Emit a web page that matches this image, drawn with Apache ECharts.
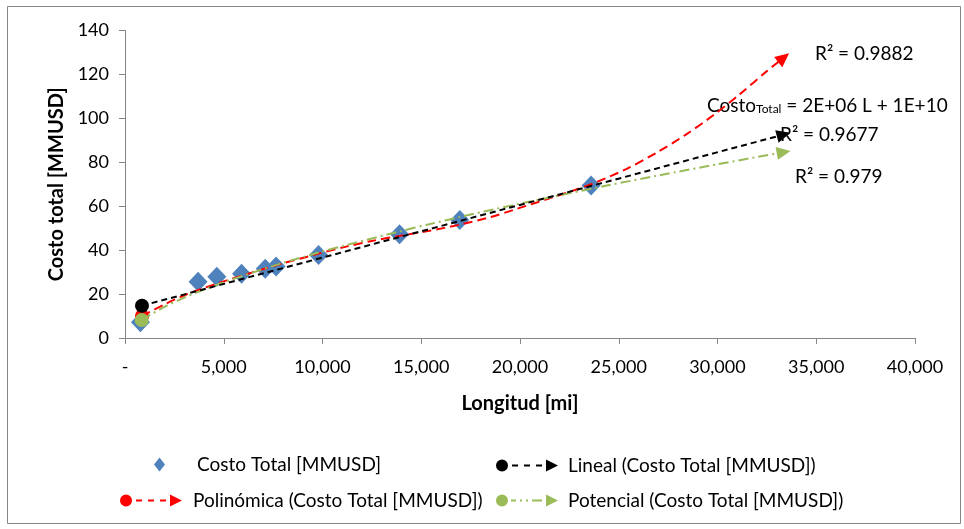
<!DOCTYPE html>
<html>
<head>
<meta charset="utf-8">
<title>Costo total vs Longitud</title>
<script src="https://cdn.jsdelivr.net/npm/echarts@6/dist/echarts.min.js"></script>
<style>
  html, body { margin: 0; padding: 0; background: #fff; }
  #chart { width: 964px; height: 529px; }
</style>
</head>
<body>
<div id="chart"></div>
<script>
// datos
const lengthMi = [780, 3700, 4650, 5900, 7100, 7650, 9800, 13900, 16950, 23600]
const costTotal = [7.2, 25.6, 27.9, 29.3, 31.5, 32.5, 37.8, 47.2, 53.7, 69.4]

// lineas de tendencia (leidas punto a punto)
const linX = [860, 33350]
const linY = [14.7, 92.6]

const polyX = [860, 2000, 3100, 4800, 6500, 8000, 9800, 11200, 12500, 13900, 15400, 16950, 18500, 19700, 21500, 23600, 25400, 26900, 28400, 29800, 31100, 32500, 33350]
const polyY = [10, 15.3, 19.8, 25.2, 30, 34, 38.4, 41.6, 44.2, 46.5, 48.8, 51.6, 55, 58.4, 63.6, 70, 77, 84.3, 92.6, 101.5, 110.8, 121.5, 127.6]

const powX = [845, 2000, 3100, 4800, 6500, 8000, 9800, 11200, 13900, 15400, 17000, 19700, 21500, 24400, 27000, 30000, 33350]
const powY = [8.2, 14.2, 18.8, 24.7, 29.9, 34.2, 38.9, 42.3, 48.5, 51.8, 55.2, 60.6, 64, 69.4, 74, 79.1, 84.6]

const yTicks = { min: 0, max: 140, interval: 20 }
const xTicks = { min: 0, max: 40000, interval: 5000 }

const FONT = 'Lato'

function trendData(xs, ys, arrowRotate) {
  return xs.map((x, i) => {
    const item = { value: [x, ys[i]], symbol: 'none' }
    if (i === 0) {
      item.symbol = 'circle'
      item.symbolSize = 14
    } else if (i === xs.length - 1) {
      item.symbol = 'triangle'
      item.symbolSize = [13, 14]
      item.symbolRotate = arrowRotate
    }
    return item
  })
}

const chart = echarts.init(document.getElementById('chart'))

// iconos de leyenda: circulo - guiones - flecha
const iconDash = 'path://M0,6A6,6,0,1,1,12,6A6,6,0,1,1,0,6Z M16,5h6v2h-6Z M28,5h6v2h-6Z M40,5h6v2h-6Z M50,0L62,6L50,12Z'
const iconDashDot = 'path://M0,6A6,6,0,1,1,12,6A6,6,0,1,1,0,6Z M15,5h5v2h-5Z M24,5h2v2h-2Z M30,5h2v2h-2Z M36,5h10v2h-10Z M50,0L62,6L50,12Z'

const legendText = { fontFamily: FONT, fontSize: 19, color: '#000' }

function legendAt(name, left, top, icon, w, h, padLeft) {
  return {
    data: [name],
    left: left,
    top: top,
    padding: 0,
    icon: icon,
    itemWidth: w,
    itemHeight: h,
    selectedMode: false,
    textStyle: Object.assign({ padding: [0, 0, 0, padLeft] }, legendText)
  }
}

const option = {
  animation: false,
  backgroundColor: '#fff',
  grid: { left: 125, right: 49, top: 30.5, bottom: 191 },
  legend: [
    legendAt('Costo Total [MMUSD]', 154, 455, 'diamond', 11, 14, 27),
    legendAt('Lineal (Costo Total [MMUSD])', 496, 456, iconDash, 62, 12, 5),
    legendAt('Polinómica (Costo Total [MMUSD])', 120, 491, iconDash, 70, 12, 2),
    legendAt('Potencial (Costo Total [MMUSD])', 496, 491, iconDashDot, 62, 12, 5)
  ],
  xAxis: {
    type: 'value',
    min: xTicks.min,
    max: xTicks.max,
    interval: xTicks.interval,
    name: 'Longitud [mi]',
    nameLocation: 'middle',
    nameGap: 56,
    nameTextStyle: { fontFamily: FONT, fontSize: 20, fontWeight: 'bold', color: '#000' },
    axisLine: { lineStyle: { color: '#868686', width: 1 } },
    axisTick: { show: true, length: 6, lineStyle: { color: '#868686' } },
    splitLine: { show: false },
    axisLabel: {
      color: '#000',
      fontFamily: FONT,
      fontSize: 18,
      margin: 20,
      formatter: v => v === 0 ? '-' : v.toLocaleString('en-US')
    }
  },
  yAxis: {
    type: 'value',
    min: yTicks.min,
    max: yTicks.max,
    interval: yTicks.interval,
    name: 'Costo total [MMUSD]',
    nameLocation: 'middle',
    nameGap: 54,
    nameTextStyle: { fontFamily: FONT, fontSize: 20, fontWeight: 'bold', color: '#000' },
    axisLine: { show: true, lineStyle: { color: '#868686', width: 1 } },
    axisTick: { show: true, length: 6, lineStyle: { color: '#868686' } },
    splitLine: { show: false },
    axisLabel: { color: '#000', fontFamily: FONT, fontSize: 18, margin: 16 }
  },
  series: [
    {
      name: 'Costo Total [MMUSD]',
      type: 'scatter',
      symbol: 'diamond',
      symbolSize: [19, 20],
      itemStyle: { color: '#4f81bd', opacity: 1 },
      data: lengthMi.map((x, i) => [x, costTotal[i]]),
      z: 2
    },
    {
      name: 'Lineal (Costo Total [MMUSD])',
      type: 'line',
      showSymbol: true,
      color: '#000',
      lineStyle: { color: '#000', width: 2, type: [6, 4] },
      itemStyle: { color: '#000' },
      data: trendData(linX, linY, -75),
      z: 5
    },
    {
      name: 'Polinómica (Costo Total [MMUSD])',
      type: 'line',
      showSymbol: true,
      smooth: 0.3,
      color: '#ff0000',
      lineStyle: { color: '#ff0000', width: 2, type: [9, 5] },
      itemStyle: { color: '#ff0000' },
      data: trendData(polyX, polyY, -51),
      z: 3
    },
    {
      name: 'Potencial (Costo Total [MMUSD])',
      type: 'line',
      showSymbol: true,
      smooth: 0.3,
      color: '#9bbb59',
      lineStyle: { color: '#9bbb59', width: 2, type: [10, 4, 2, 4] },
      itemStyle: { color: '#9bbb59' },
      data: trendData(powX, powY, -80),
      z: 4
    }
  ],
  graphic: [
    {
      type: 'rect',
      shape: { x: 7.5, y: 6.5, width: 953, height: 517 },
      style: { fill: 'none', stroke: '#868686', lineWidth: 1 },
      silent: true
    },
    {
      type: 'text', left: 815, top: 44,
      style: { text: 'R² = 0.9882', fontFamily: FONT, fontSize: 19, fill: '#000' }
    },
    {
      type: 'text', left: 707, top: 96,
      style: {
        text: '{a|Costo}{s|Total}{a| = 2E+06 L + 1E+10}',
        rich: {
          a: { fontFamily: FONT, fontSize: 19, color: '#000' },
          s: { fontFamily: FONT, fontSize: 12, color: '#000', verticalAlign: 'bottom', padding: [8, 0, 0, 0] }
        }
      }
    },
    {
      type: 'text', left: 780, top: 125,
      style: { text: 'R² = 0.9677', fontFamily: FONT, fontSize: 19, fill: '#000' }
    },
    {
      type: 'text', left: 795, top: 167,
      style: { text: 'R² = 0.979', fontFamily: FONT, fontSize: 19, fill: '#000' }
    }
  ]
}

chart.setOption(option)
</script>
</body>
</html>
